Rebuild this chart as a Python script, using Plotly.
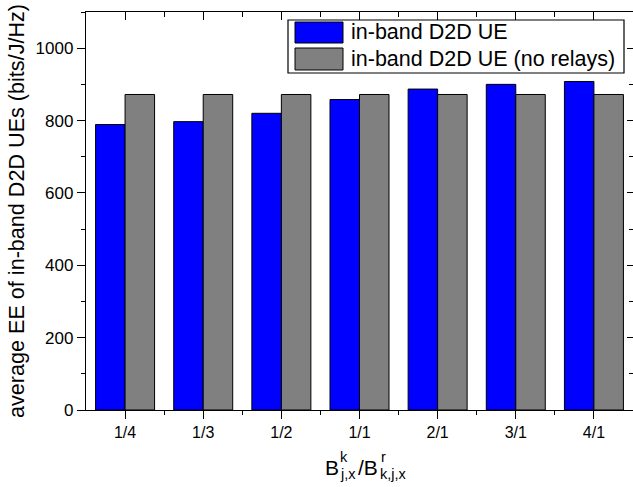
import plotly.graph_objects as go

categories = ["1/4", "1/3", "1/2", "1/1", "2/1", "3/1", "4/1"]
ee_relay = [789, 797, 820, 858, 887, 900, 908]
ee_no_relay = [872, 872, 872, 872, 872, 872, 872]
series_names = ["in-band D2D UE", "in-band D2D UE (no relays)"]
series_colors = ["#0000FF", "#808080"]
y_tick_vals = [0, 200, 400, 600, 800, 1000]
y_title = "average EE of in-band D2D UEs (bits/J/Hz)"
# x title B^k_{j,x} / B^r_{k,j,x}, pieces: (text, role)
x_title_parts = [("B", "main"), ("k", "sup"), ("j,x", "sub"), ("/B", "main"), ("r", "sup"), ("k,j,x", "sub")]

x_pos = list(range(len(categories)))
half_pos = [i + 0.5 for i in x_pos[:-1]]

FONT = "Liberation Sans, Arial, sans-serif"
W, H = 633, 487
L, R, T, B = 86, 0, 12, 77
pw, ph = W - L - R, H - T - B


def px_x(p):
    return (p - L) / pw


def px_y(p):
    return (H - B - p) / ph


fig = go.Figure()
for vals, name, col in zip([ee_relay, ee_no_relay], series_names, series_colors):
    fig.add_trace(go.Bar(x=x_pos, y=vals, name=name, marker=dict(color=col, line=dict(color="black", width=1)),
                         showlegend=False))
# empty trace to activate mirrored top/right axes
fig.add_trace(go.Scatter(x=[], y=[], xaxis="x2", yaxis="y2", showlegend=False))

axis_common = dict(showline=True, linecolor="black", linewidth=1.3, showgrid=False, zeroline=False,
                   tickcolor="black", tickwidth=1.2, automargin=False)

fig.update_layout(
    width=W, height=H,
    margin=dict(l=L, r=R, t=T, b=B, autoexpand=False),
    plot_bgcolor="white", paper_bgcolor="white",
    barmode="group", bargap=0.245, bargroupgap=0,
    font=dict(family=FONT, color="black", size=17),
    xaxis=dict(range=[-0.5, 6.5], tickmode="array", tickvals=x_pos, ticktext=categories,
               ticks="outside", ticklen=8,
               minor=dict(tickmode="array", tickvals=half_pos, ticks="outside", ticklen=4,
                          tickcolor="black", tickwidth=1.2),
               tickfont=dict(size=16),
               **axis_common),
    xaxis2=dict(range=[-0.5, 6.5], overlaying="x", side="top", anchor="y", tickmode="array", tickvals=x_pos,
                showticklabels=False, ticks="inside", ticklen=8,
                minor=dict(tickmode="array", tickvals=half_pos, ticks="inside", ticklen=5,
                           tickcolor="black", tickwidth=1.2),
                **axis_common),
    yaxis=dict(range=[0, 1100], tickmode="array", tickvals=y_tick_vals, ticks="outside", ticklen=8,
               minor=dict(dtick=100, ticks="outside", ticklen=4, tickcolor="black", tickwidth=1.2),
               tickfont=dict(size=17),
               title=dict(text=y_title, font=dict(size=21.6), standoff=5),
               **axis_common),
    yaxis2=dict(range=[0, 1100], overlaying="y", side="right", anchor="x", tickmode="array",
                tickvals=y_tick_vals, showticklabels=False, ticks="inside", ticklen=6,
                minor=dict(dtick=100, ticks="inside", ticklen=4, tickcolor="black", tickwidth=1.2),
                **axis_common),
)

# custom legend (large swatches like the reference)
shapes = [dict(type="rect", xref="paper", yref="paper", x0=px_x(288), x1=px_x(624), y0=px_y(73), y1=px_y(20),
               line=dict(color="black", width=1.2), fillcolor="white", layer="above")]
sw_rows = [(22, 43), (48, 70)]
annotations = []
for (top, bot), name, col in zip(sw_rows, series_names, series_colors):
    shapes.append(dict(type="rect", xref="paper", yref="paper", x0=px_x(295), x1=px_x(343),
                       y0=px_y(bot), y1=px_y(top), line=dict(color="black", width=1),
                       fillcolor=col, layer="above"))
    annotations.append(dict(xref="paper", yref="paper", x=px_x(349), y=px_y((top + bot) / 2),
                            text=name, showarrow=False, xanchor="left", yanchor="middle",
                            font=dict(size=21.5, family=FONT, color="black")))

# x-axis title with stacked super/subscripts
part_x = [324, 339, 339, 357, 380, 379]
role_style = {"main": (21, 467.5), "sup": (14.5, 457), "sub": (14.5, 474)}
for (txt, role), xp in zip(x_title_parts, part_x):
    size, yp = role_style[role]
    annotations.append(dict(xref="paper", yref="paper", x=px_x(xp), y=px_y(yp), text=txt,
                            showarrow=False, xanchor="left", yanchor="middle", borderpad=0,
                            font=dict(size=size, family=FONT, color="black")))

fig.update_layout(shapes=shapes, annotations=annotations)

fig.write_html("out.html", config={"displayModeBar": False},
               post_script="document.body.style.margin='0';document.body.style.overflow='hidden';")
